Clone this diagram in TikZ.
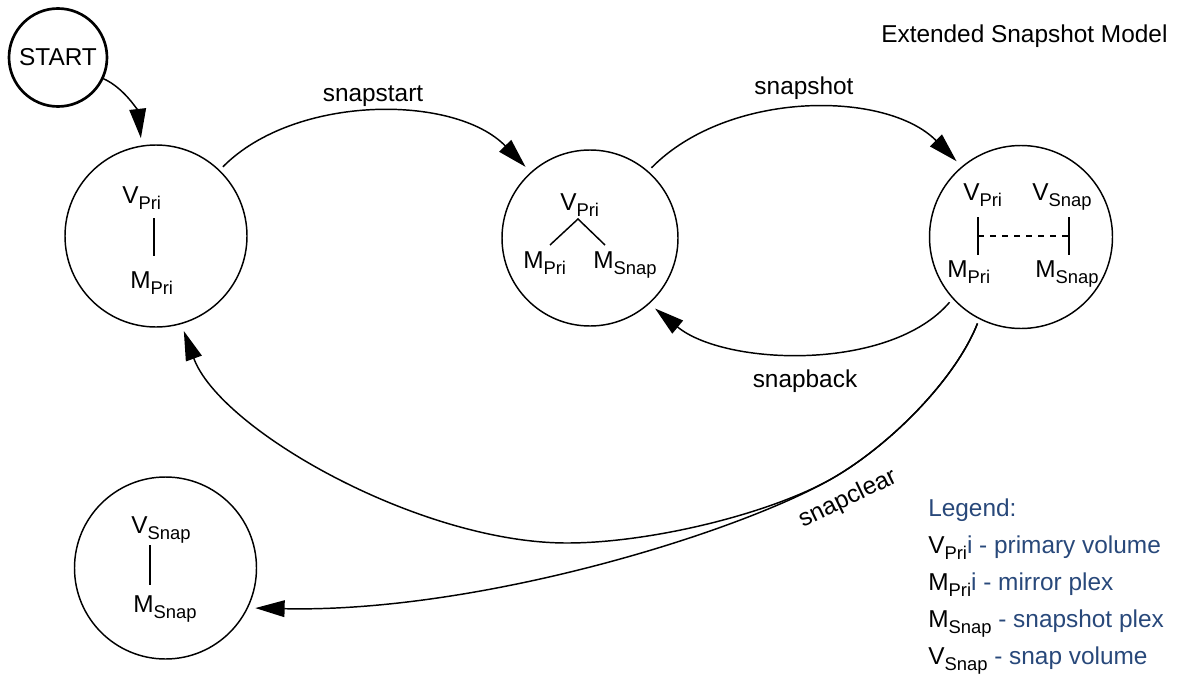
\documentclass[tikz,border=0pt]{standalone}
\usepackage{fontspec}
\setmainfont{Liberation Sans}
\usetikzlibrary{arrows.meta}
\definecolor{legendblue}{RGB}{40,72,122}
% lowered, smaller index text (V_Pri, M_Snap, ...)
\newcommand\subs[1]{\raisebox{-4.6pt}{\fontsize{13.8pt}{13.8pt}\selectfont #1}}
\begin{document}
\begin{tikzpicture}[x=0.75pt,y=-0.75pt,
  every node/.style={font=\fontsize{18.3pt}{21pt}\selectfont},
  state/.style={circle,draw,line width=1.1pt,inner sep=0pt,outer sep=0pt},
  lbl/.style={anchor=base west,inner sep=0pt},
  conn/.style={line width=1.1pt,shorten <=4pt,shorten >=6pt,
    -{Triangle[length=22pt,width=12.5pt]}},
  link/.style={line width=1.1pt}]
\useasboundingbox (0,0) rectangle (1178,674);

% states
\node[state,line width=2pt,minimum size=73.5pt] (start) at (58,57.5) {START};
\node[state,minimum size=136.5pt] (s1) at (156,236) {};
\node[state,minimum size=132pt] (s2) at (590,238) {};
\node[state,minimum size=137.25pt] (s3) at (1021,237) {};
\node[state,minimum size=136.5pt] (s4) at (165.5,568) {};

% contents of state 1
\node[lbl] (v1) at (122,203) {V\subs{Pri}};
\node[lbl] (m1) at (130,288) {M\subs{Pri}};
\draw[link] (154,218) -- (154,256);

% contents of state 2
\node[lbl] (v2) at (560,210) {V\subs{Pri}};
\node[lbl] (m2a) at (523,268) {M\subs{Pri}};
\node[lbl] (m2b) at (593,268) {M\subs{Snap}};
\draw[link] (550,245) -- (578,219) -- (605,245);

% contents of state 3
\node[lbl] (v3a) at (963,200) {V\subs{Pri}};
\node[lbl] (v3b) at (1032,200) {V\subs{Snap}};
\node[lbl] (m3a) at (947,277) {M\subs{Pri}};
\node[lbl] (m3b) at (1035,277) {M\subs{Snap}};
\draw[link] (978,217) -- (978,255);
\draw[link] (1069,217) -- (1069,255);
\draw[line width=0.8pt,dash pattern=on 4.5pt off 4.5pt] (978,236) -- (1069,236);

% contents of state 4
\node[lbl] (v4) at (131,533) {V\subs{Snap}};
\node[lbl] (m4) at (133,612) {M\subs{Snap}};
\draw[link] (150,545) -- (150,585);

% transitions
\coordinate (j) at (833,478);
\coordinate (b) at (567,543);
\draw[conn,shorten <=0pt] (start.-25) .. controls (125,88) and (138,112) .. (s1.99);
\draw[conn] (s1.46) .. controls (295,94) and (455,94) .. (s2.132);
\draw[conn] (s2.49) .. controls (728,90) and (886,90) .. (s3.130);
\draw[conn] (s3.222) .. controls (890,372) and (725,366) .. (s2.-48);
\draw[conn] (s3.243) .. controls (955,380) and (890,445) .. (j)
  .. controls (770,514) and (650,543) .. (b)
  .. controls (420,543) and (220,430) .. (s1.-74);
\draw[conn] (s3.243) .. controls (955,380) and (890,445) .. (j)
  .. controls (740,532) and (480,613) .. (s4.-26);

% transition labels
\node (tstart) at (373,96) {snapstart};
\node (tshot) at (804,88) {snapshot};
\node (tback) at (805,381) {snapback};
\node[rotate=26] (tclear) at (848,499) {snapclear};

% title
\node[lbl] (title) at (881,43) {Extended Snapshot Model};

% legend
\node[lbl,text=legendblue] (lg) at (928,516) {Legend:};
\node[lbl] (lg1) at (928,553) {V\subs{Pri}\textcolor{legendblue}{i - primary volume}};
\node[lbl] (lg2) at (928,590) {M\subs{Pri}\textcolor{legendblue}{i - mirror plex}};
\node[lbl] (lg3) at (928,627) {M\subs{Snap} \textcolor{legendblue}{- snapshot plex}};
\node[lbl] (lg4) at (928,664) {V\subs{Snap} \textcolor{legendblue}{- snap volume}};
\end{tikzpicture}
\end{document}
